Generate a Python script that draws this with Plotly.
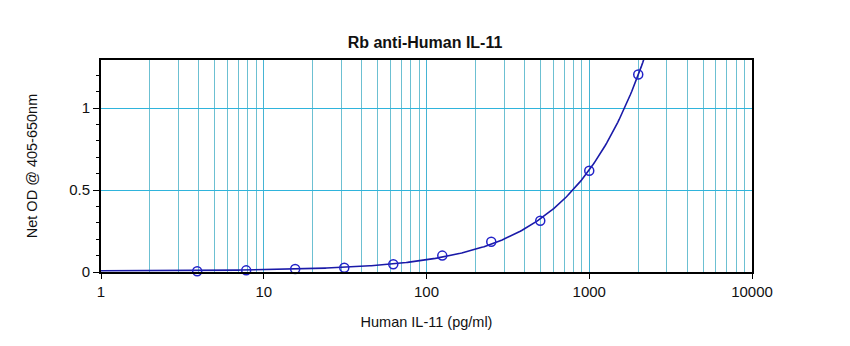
import numpy as np
import plotly.graph_objects as go

# Data
conc = [3.9, 7.8, 15.6, 31.25, 62.5, 125, 250, 500, 1000, 2000]
od = [0.005, 0.010, 0.018, 0.026, 0.047, 0.100, 0.185, 0.313, 0.618, 1.205]

x_major = [1, 10, 100, 1000, 10000]
x_major_text = ["1", "10", "100", "1000", "10000"]
x_minor = [m * d for d in [1, 10, 100, 1000] for m in range(2, 10)]

# Fit curve y = a + b * x^p derived from the data (least squares over p)
xa = np.array(conc, dtype=float)
ya = np.array(od, dtype=float)
best = None
for p in np.linspace(0.5, 1.5, 1001):
    A = np.vstack([np.ones_like(xa), xa ** p]).T
    coef, res, *_ = np.linalg.lstsq(A, ya, rcond=None)
    err = np.sum((A @ coef - ya) ** 2)
    if best is None or err < best[0]:
        best = (err, p, coef)
_, p_fit, (a_fit, b_fit) = best
xc = np.logspace(0, np.log10(2600), 400)
yc = a_fit + b_fit * xc ** p_fit

fig = go.Figure()
fig.add_trace(go.Scatter(x=xc, y=yc, mode="lines",
                         line=dict(color="#1a1aa8", width=1.6),
                         hoverinfo="skip", showlegend=False))
fig.add_trace(go.Scatter(x=conc, y=od, mode="markers",
                         marker=dict(symbol="circle-open", size=9,
                                     color="#2222c8", line=dict(width=1.5)),
                         showlegend=False, cliponaxis=False))

fig.update_layout(
    width=850, height=346,
    margin=dict(l=101, r=98, t=60, b=74),
    paper_bgcolor="white", plot_bgcolor="white",
    font=dict(family="Liberation Sans, Arial, sans-serif", color="#111111", size=15),
    title=dict(text="<b>Rb anti-Human IL-11</b>", x=0.5, xanchor="center",
               y=1 - 42 / 346, yanchor="middle", font=dict(size=16)),
)
fig.update_xaxes(
    type="log", range=[0, 4],
    tickvals=x_major, ticktext=x_major_text,
    showgrid=True, gridcolor="#45b4d4", gridwidth=1,
    ticks="outside", ticklen=5, tickcolor="black", tickwidth=1,
    showline=True, linecolor="black", linewidth=2, mirror=True,
    minor=dict(tickvals=x_minor, showgrid=True, gridcolor="#6cc0d2",
               gridwidth=1, ticks=""),
    zeroline=False,
    title=dict(text="Human IL-11 (pg/ml)", font=dict(size=14.5), standoff=18),
)
fig.update_yaxes(
    range=[0, 1.293], tickvals=[0, 0.5, 1], ticktext=["0", "0.5", "1"],
    showgrid=True, gridcolor="#2fb4dc", gridwidth=1,
    ticks="outside", ticklen=6, tickcolor="black", tickwidth=1,
    showline=True, linecolor="black", linewidth=2, mirror=True,
    minor=dict(dtick=0.1, ticks="outside", ticklen=3, tickcolor="black",
               showgrid=False),
    zeroline=False,
    title=dict(text="Net OD @ 405-650nm", font=dict(size=14.5), standoff=28),
)

fig.write_html("out.html")
